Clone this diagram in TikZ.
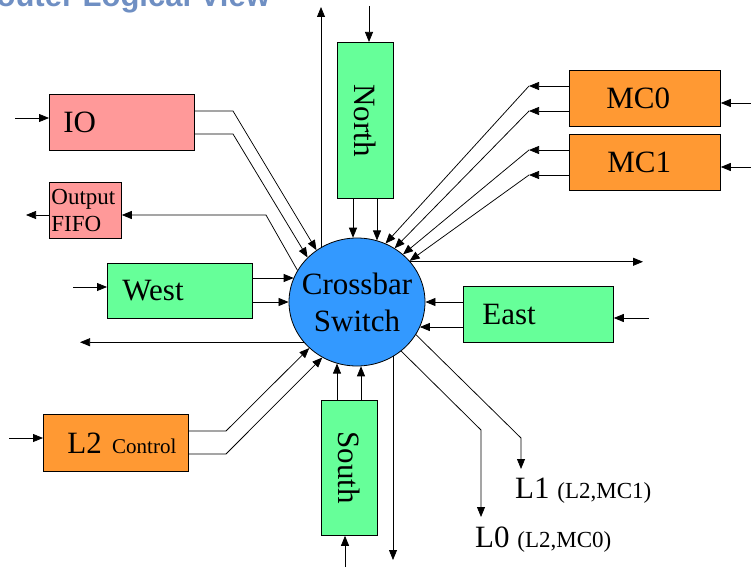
\documentclass[tikz,border=0pt]{standalone}
\usepackage{fontspec}
\setmainfont{Liberation Serif}
\newfontfamily\titlefont{Liberation Sans}
\usetikzlibrary{arrows.meta,shapes.geometric,calc}
\definecolor{boxgreen}{RGB}{102,255,153}
\definecolor{boxpink}{RGB}{255,153,153}
\definecolor{boxorange}{RGB}{255,153,51}
\definecolor{xbarblue}{RGB}{51,153,255}
\definecolor{titleblue}{RGB}{111,143,195}
\begin{document}
\begin{tikzpicture}[x=1pt,y=-1pt,
  blk/.style={draw=black, line width=0.8pt, inner ysep=0pt, inner xsep=10pt, anchor=north west, align=left},
  vblk/.style={draw=black, line width=0.8pt, inner sep=0pt, anchor=north west, fill=boxgreen, font=\fontsize{31}{31}\selectfont},
  arr/.style={line width=0.75pt, -{Triangle[length=10pt,width=8pt]}},
  big/.style={font=\fontsize{31}{31}\selectfont},
  small/.style={font=\fontsize{23}{23}\selectfont},
]
\useasboundingbox (0,0) rectangle (751,567);

% title (cut off at the top)
\node[anchor=base west, inner sep=0pt, text=titleblue, font=\titlefont\bfseries\fontsize{31}{31}\selectfont] (title) at (-26,6.5) {Router Logical View};

% boxes
\node[blk, big, fill=boxpink, minimum width=145pt, minimum height=56pt, text width=125pt] (io) at (49,94) {\hspace*{4pt}IO};
\node[blk, fill=boxpink, minimum width=72pt, minimum height=56pt, inner xsep=2pt, text width=68pt, font=\fontsize{23}{27}\selectfont] (fifo) at (49,182) {Output\\FIFO};
\node[blk, big, fill=boxgreen, minimum width=145pt, minimum height=55pt, text width=125pt] (west) at (107,263) {\hspace*{5pt}West};
\node[blk, big, fill=boxgreen, minimum width=150pt, minimum height=56pt, text width=130pt] (east) at (463,286) {\hspace*{9pt}East};
\node[blk, big, fill=boxorange, minimum width=151pt, minimum height=56pt, text width=131pt] (mc0) at (569,70) {\hspace*{27pt}MC0};
\node[blk, big, fill=boxorange, minimum width=151pt, minimum height=56pt, text width=131pt] (mc1) at (569,134) {\hspace*{28pt}MC1};
\node[blk, big, fill=boxorange, minimum width=145pt, minimum height=57pt, text width=125pt] (l2) at (43,414) {\hspace*{14pt}L2 {\fontsize{21}{21}\selectfont Control}};
\node[vblk, minimum width=56pt, minimum height=156pt] (north) at (337,42) {\rotatebox{-90}{North}};
\node[vblk, minimum width=56pt, minimum height=135pt] (south) at (321,400) {\rotatebox{-90}{South}};

% crossbar
\node[ellipse, draw=black, line width=0.8pt, fill=xbarblue, minimum width=136pt, minimum height=128pt, inner sep=0pt] (cb) at (357,302) {};
\node[align=center, inner sep=0pt, font=\fontsize{31}{37}\selectfont] (cbt) at (cb) {Crossbar\\Switch};

% labels
\node[anchor=base west, inner sep=0pt, big] (l1lab) at (515,498) {L1 {\fontsize{23}{23}\selectfont (L2,MC1)}};
\node[anchor=base west, inner sep=0pt, big] (l0lab) at (475,547) {L0 {\fontsize{23}{23}\selectfont (L2,MC0)}};

% free ends and bends
\coordinate (ioin) at (15,118);
\coordinate (iob1) at (233,111);
\coordinate (iob2) at (233,134);
\coordinate (fb) at (266,215);
\coordinate (fout) at (26,215);
\coordinate (nin) at (369,6);
\coordinate (nup) at (321,7);
\coordinate (n1) at (353,0);
\coordinate (n2) at (377,0);
\coordinate (mc0in) at (751,103);
\coordinate (mc1in) at (751,167);
\coordinate (m1) at (529,86);
\coordinate (m2) at (529,111);
\coordinate (m3) at (529,150);
\coordinate (m4) at (529,175);
\coordinate (eout) at (643,262);
\coordinate (ein) at (649,318);
\coordinate (e1) at (0,302);
\coordinate (e2) at (0,327);
\coordinate (win) at (73,287);
\coordinate (w1) at (0,278);
\coordinate (w2) at (0,302);
\coordinate (wout) at (80,342);
\coordinate (l2in) at (9,438);
\coordinate (lb1) at (226,431);
\coordinate (lb2) at (226,454);
\coordinate (sthin) at (345,567);
\coordinate (s1) at (337,0);
\coordinate (s2) at (361,0);
\coordinate (sout) at (393,560);
\coordinate (l0b) at (481,430);
\coordinate (l0t) at (481,517);
\coordinate (l1b) at (521,438);
\coordinate (l1t) at (521,469);

% IO
\draw[arr] (ioin) -- (ioin -| io.west);
\draw[arr] (iob1 -| io.east) -- (iob1) -- (cb.128);
\draw[arr] (iob2 -| io.east) -- (iob2) -- (cb.138);
% Output FIFO
\draw[arr] (cb.152) -- (fb) -- (fb -| fifo.east);
\draw[arr] (fout -| fifo.west) -- (fout);
% North
\draw[arr] (nin) -- (nin |- north.north);
\draw[arr] (nup |- cb.124) -- (nup);
\draw[arr] (n1 |- north.south) -- (n1 |- cb.94);
\draw[arr] (n2 |- north.south) -- (n2 |- cb.72);
% MC0 / MC1
\draw[arr] (mc0in) -- (mc0in -| mc0.east);
\draw[arr] (mc1in) -- (mc1in -| mc1.east);
\draw[arr] (m1 -| mc0.west) -- (m1);
\draw[arr] (m1) -- (cb.64);
\draw[arr] (m2 -| mc0.west) -- (m2);
\draw[arr] (m2) -- (cb.55);
\draw[arr] (m3 -| mc1.west) -- (m3);
\draw[arr] (m3) -- (cb.46);
\draw[arr] (m4 -| mc1.west) -- (m4);
\draw[arr] (m4) -- (cb.38);
% East
\draw[arr] (cb.37) -- (cb.37 -| eout);
\draw[arr] (ein) -- (ein -| east.east);
\draw[arr] (e1 -| east.west) -- (e1 -| cb.0);
\draw[arr] (e2 -| east.west) -- (e2 -| cb.-22);
% West
\draw[arr] (win) -- (win -| west.west);
\draw[arr] (w1 -| west.east) -- (w1 -| cb.159);
\draw[arr] (w2 -| west.east) -- (w2 -| cb.180);
\draw[arr] (cb.217) -- (cb.217 -| wout);
% L2 Control
\draw[arr] (l2in) -- (l2in -| l2.west);
\draw[arr] (lb1 -| l2.east) -- (lb1) -- (cb.224);
\draw[arr] (lb2 -| l2.east) -- (lb2) -- (cb.238);
% South
\draw[arr] (sthin) -- (sthin |- south.south);
\draw[arr] (s1 |- south.north) -- (s1 |- cb.252);
\draw[arr] (s2 |- south.north) -- (s2 |- cb.274);
\draw[arr] (sout |- cb.304) -- (sout);
% L0 / L1
\draw[arr] (cb.312) -- (l0b) -- (l0t);
\draw[arr] (cb.331) -- (l1b) -- (l1t);
\end{tikzpicture}
\end{document}
